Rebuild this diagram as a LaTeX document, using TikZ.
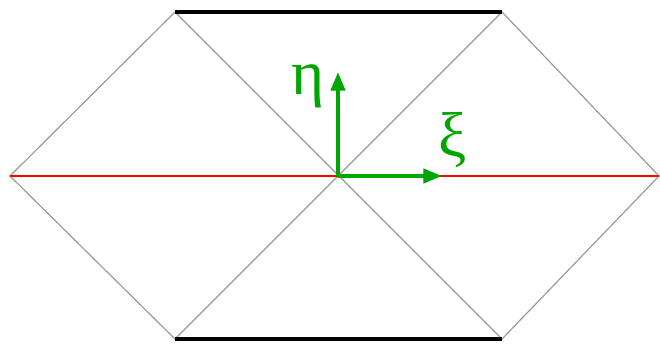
\documentclass[tikz,border=0pt]{standalone}
\usepackage{fontspec}
\newfontfamily\greekfont{Liberation Serif}
\usepackage{tikz}
\usetikzlibrary{arrows.meta,positioning,calc}

\begin{document}
\begin{tikzpicture}[x=0.03cm, y=-0.03cm,
  edge/.style={gray!80, line width=1pt},
  rim/.style={black, line width=4pt},
  axisarrow/.style={-{Triangle[length=16pt,width=12pt]}, green!65!black, line width=3.6pt},
  axislabel/.style={green!65!black, inner sep=0pt, font=\greekfont\fontsize{54}{60}\selectfont}]
\useasboundingbox (0,0) rectangle (660,344);
% hexagon corners
\coordinate (L) at (10,176);
\coordinate (R) at (659,176);
\coordinate (TL) at (175,12);
\coordinate (TR) at (502,12);
\coordinate (BL) at (175,339);
\coordinate (BR) at (502,339);
\coordinate (O) at (338,176);
% thin edges and diagonals
\draw[edge] (TL) -- (L) -- (BL);
\draw[edge] (TR) -- (R) -- (BR);
\draw[edge] (TL) -- (BR);
\draw[edge] (TR) -- (BL);
\draw[red, line width=1.3pt] (L) -- (R);
% thick top and bottom
\draw[rim] (TL) -- (TR);
\draw[rim] (BL) -- (BR);
% local axes
\coordinate (etatip) at (338,72);
\coordinate (xitip) at (442,176);
\draw[axisarrow] (O) -- (etatip);
\draw[axisarrow] (O) -- (xitip);
\node[axislabel] (eta) at (308,86) {η};
\node[axislabel] (xi) at (453,140) {ξ};
\end{tikzpicture}
\end{document}
